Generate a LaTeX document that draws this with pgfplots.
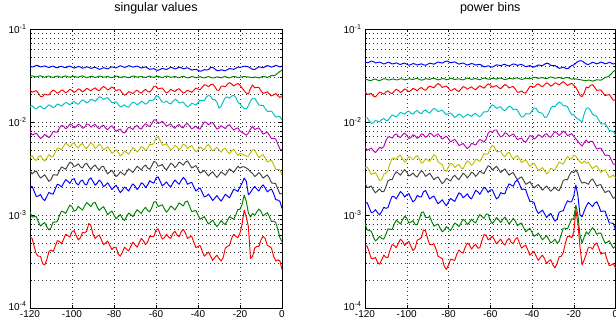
\documentclass[border=0pt]{standalone}
\usepackage{fontspec}
\setmainfont{Liberation Sans}
\setsansfont{Liberation Sans}
\usepackage{pgfplots}
\usepackage{pgfplotstable}
\pgfplotsset{compat=1.18}
\definecolor{mb}{rgb}{0,0,1}
\definecolor{mg}{rgb}{0,0.5,0}
\definecolor{mr}{rgb}{1,0,0}
\definecolor{mc}{rgb}{0,0.75,0.75}
\definecolor{mm}{rgb}{0.75,0,0.75}
\definecolor{my}{rgb}{0.75,0.75,0}
\definecolor{mk}{rgb}{0.25,0.25,0.25}

% left panel: singular values
\pgfplotstableread{
x a b c d e f g h i j
-120 400e-4 310e-4 222e-4 146e-4 79e-4 42e-4 30e-4 20e-4 10.8e-4 5.8e-4
-119 390e-4 314e-4 209e-4 150e-4 72.7e-4 43.5e-4 27.7e-4 20.3e-4 9.5e-4 5.6e-4
-118 396e-4 308e-4 214e-4 142e-4 74e-4 40e-4 29e-4 18e-4 9.6e-4 4.6e-4
-117 407e-4 305e-4 217e-4 138e-4 76e-4 38.5e-4 29.7e-4 15.8e-4 9.6e-4 3.8e-4
-116 402e-4 311e-4 204e-4 145e-4 71e-4 42e-4 27e-4 16e-4 8.4e-4 3.6e-4
-115 391e-4 314e-4 188e-4 149e-4 66.5e-4 43.5e-4 25e-4 16.6e-4 7.6e-4 3.6e-4
-114 395e-4 307e-4 188e-4 141e-4 69e-4 40e-4 26e-4 15e-4 8.0e-4 3.0e-4
-113 401e-4 303e-4 200e-4 138e-4 73.5e-4 38e-4 27e-4 14.3e-4 8.3e-4 2.9e-4
-112 392e-4 309e-4 196e-4 146e-4 71e-4 41e-4 25e-4 15.8e-4 7.5e-4 3.3e-4
-111 385e-4 312e-4 195e-4 153e-4 68e-4 44.5e-4 23e-4 17.5e-4 6.9e-4 4.05e-4
-110 394e-4 305e-4 210e-4 149e-4 72e-4 43e-4 24e-4 17e-4 7.3e-4 4.2e-4
-109 399e-4 302e-4 220e-4 142e-4 79e-4 42.5e-4 27e-4 16.7e-4 8.4e-4 4.05e-4
-108 388e-4 308e-4 214e-4 147e-4 78e-4 47e-4 27e-4 19e-4 8.4e-4 4.6e-4
-107 382e-4 312e-4 204e-4 156e-4 78e-4 52.5e-4 26.8e-4 21.4e-4 8.5e-4 5.3e-4
-106 392e-4 306e-4 210e-4 153e-4 86e-4 52e-4 30e-4 21e-4 9.8e-4 5.2e-4
-105 398e-4 303e-4 221e-4 148e-4 92e-4 50.3e-4 32.9e-4 20e-4 11e-4 4.9e-4
-104 389e-4 309e-4 216e-4 155e-4 90e-4 55e-4 32e-4 22e-4 10.8e-4 5.5e-4
-103 383e-4 313e-4 206e-4 163e-4 84.5e-4 59.4e-4 31e-4 24e-4 10.4e-4 6.2e-4
-102 393e-4 307e-4 213e-4 158e-4 88e-4 57e-4 34e-4 23e-4 11.6e-4 6.0e-4
-101 399e-4 303e-4 225e-4 153e-4 95e-4 54e-4 37e-4 21.9e-4 12.8e-4 5.8e-4
-100 390e-4 308e-4 219e-4 161e-4 93e-4 58e-4 36e-4 24e-4 12.3e-4 6.6e-4
-99 380e-4 311e-4 208e-4 166e-4 86.5e-4 60e-4 33e-4 24.6e-4 11e-4 6.8e-4
-98 386e-4 305e-4 215e-4 158e-4 89e-4 55e-4 34e-4 22e-4 11.3e-4 6.0e-4
-97 396e-4 303e-4 227e-4 155e-4 95e-4 52.6e-4 35.5e-4 21e-4 12.4e-4 5.4e-4
-96 390e-4 310e-4 222e-4 165e-4 92e-4 57e-4 33e-4 23e-4 11.8e-4 5.7e-4
-95 379e-4 313e-4 211e-4 173e-4 85.5e-4 58.8e-4 32e-4 23.8e-4 11.3e-4 6.5e-4
-94 384e-4 306e-4 218e-4 168e-4 88e-4 54e-4 35e-4 21.5e-4 12.5e-4 6.4e-4
-93 393e-4 300e-4 230e-4 160e-4 95.5e-4 51.7e-4 36e-4 21.1e-4 13.6e-4 6.7e-4
-92 387e-4 304e-4 224e-4 166e-4 94e-4 56e-4 33e-4 24e-4 13.0e-4 8.1e-4
-91 377e-4 310e-4 216e-4 176e-4 88e-4 60e-4 31e-4 25.1e-4 12.3e-4 7.7e-4
-90 383e-4 307e-4 226e-4 172e-4 92e-4 57e-4 33e-4 23e-4 13.4e-4 6.2e-4
-89 388e-4 301e-4 233e-4 167e-4 94.5e-4 52e-4 34.5e-4 20.9e-4 13.7e-4 5.6e-4
-88 378e-4 305e-4 222e-4 176e-4 88e-4 54e-4 32e-4 22e-4 12.2e-4 5.9e-4
-87 368e-4 312e-4 217e-4 187e-4 84.5e-4 57.8e-4 30.5e-4 23.8e-4 11.2e-4 6.1e-4
-86 374e-4 309e-4 230e-4 184e-4 90e-4 55e-4 33e-4 22.5e-4 11.8e-4 5.4e-4
-85 384e-4 303e-4 241e-4 175e-4 92.5e-4 50.3e-4 33.4e-4 20.2e-4 12.3e-4 4.8e-4
-84 378e-4 306e-4 233e-4 180e-4 86e-4 52e-4 30e-4 21e-4 11.2e-4 5.0e-4
-83 373e-4 309e-4 221e-4 183e-4 82.6e-4 54e-4 27.7e-4 22.2e-4 10.1e-4 5.25e-4
-82 383e-4 303e-4 228e-4 172e-4 88e-4 50e-4 29e-4 20.5e-4 10.6e-4 4.7e-4
-81 392e-4 300e-4 238e-4 161e-4 91e-4 46e-4 30.2e-4 18.8e-4 11e-4 4.25e-4
-80 386e-4 306e-4 230e-4 163e-4 85e-4 48e-4 28e-4 20e-4 10.0e-4 4.5e-4
-79 381e-4 312e-4 217e-4 165e-4 79.3e-4 50.3e-4 25.9e-4 20.9e-4 9.1e-4 4.5e-4
-78 392e-4 308e-4 222e-4 155e-4 82e-4 47e-4 27e-4 19e-4 9.6e-4 3.8e-4
-77 402e-4 302e-4 221e-4 145e-4 84e-4 43.2e-4 29.2e-4 17.4e-4 10.1e-4 3.6e-4
-76 396e-4 305e-4 204e-4 148e-4 78e-4 45e-4 28e-4 18.5e-4 9.2e-4 4.0e-4
-75 386e-4 308e-4 194e-4 153e-4 76e-4 48.8e-4 26.8e-4 20e-4 8.7e-4 4.5e-4
-74 392e-4 302e-4 200e-4 146e-4 82e-4 47e-4 29e-4 19e-4 9.6e-4 4.3e-4
-73 403e-4 299e-4 212e-4 144e-4 88e-4 45e-4 31.3e-4 18.1e-4 10.5e-4 4.1e-4
-72 398e-4 306e-4 208e-4 155e-4 86e-4 49e-4 30e-4 20e-4 10.1e-4 4.6e-4
-71 388e-4 312e-4 202e-4 164e-4 83e-4 53e-4 28.7e-4 21.6e-4 9.6e-4 5.1e-4
-70 394e-4 309e-4 213e-4 160e-4 89e-4 51e-4 31e-4 20.5e-4 10.5e-4 4.8e-4
-69 400e-4 303e-4 220e-4 153e-4 92e-4 47.5e-4 33.4e-4 18.8e-4 11.4e-4 4.5e-4
-68 390e-4 306e-4 210e-4 158e-4 86e-4 50e-4 32e-4 20e-4 10.9e-4 5.0e-4
-67 380e-4 310e-4 204e-4 167e-4 84e-4 54.6e-4 30.5e-4 22.2e-4 10.4e-4 5.6e-4
-66 386e-4 304e-4 216e-4 163e-4 91e-4 53e-4 33e-4 21.5e-4 11.4e-4 5.3e-4
-65 391e-4 301e-4 224e-4 155e-4 96e-4 49.4e-4 34.5e-4 19.7e-4 12.1e-4 4.8e-4
-64 380e-4 307e-4 214e-4 161e-4 92e-4 52e-4 32e-4 21e-4 11.2e-4 5.1e-4
-63 368e-4 311e-4 209e-4 172e-4 89e-4 57.8e-4 31e-4 23.3e-4 10.8e-4 5.9e-4
-62 372e-4 305e-4 222e-4 170e-4 96e-4 57e-4 34e-4 22.5e-4 12.0e-4 5.9e-4
-61 375e-4 302e-4 242e-4 173e-4 105.5e-4 58.8e-4 37.6e-4 22e-4 13.8e-4 5.9e-4
-60 364e-4 308e-4 243e-4 190e-4 105e-4 68e-4 37e-4 25e-4 13.9e-4 6.9e-4
-59 359e-4 311e-4 227e-4 190e-4 96.4e-4 69.4e-4 33.4e-4 25.7e-4 12.3e-4 7.1e-4
-58 368e-4 304e-4 230e-4 176e-4 98e-4 63e-4 34e-4 23e-4 12.6e-4 6.2e-4
-57 377e-4 300e-4 232e-4 163e-4 102e-4 56.4e-4 35e-4 20.6e-4 12.9e-4 5.5e-4
-56 372e-4 306e-4 216e-4 163e-4 96e-4 57e-4 32e-4 21.5e-4 11.6e-4 5.7e-4
-55 367e-4 312e-4 205e-4 168e-4 90e-4 58.8e-4 30.5e-4 22.7e-4 10.7e-4 6.2e-4
-54 377e-4 308e-4 212e-4 160e-4 93e-4 54e-4 33e-4 21e-4 11.4e-4 5.8e-4
-53 387e-4 302e-4 224e-4 156e-4 95.5e-4 49.8e-4 36e-4 20e-4 12.5e-4 5.6e-4
-52 382e-4 305e-4 218e-4 166e-4 89e-4 52e-4 35e-4 22e-4 12.0e-4 6.3e-4
-51 372e-4 309e-4 212e-4 175e-4 85.5e-4 56.2e-4 32.4e-4 23.8e-4 11.3e-4 6.7e-4
-50 378e-4 303e-4 223e-4 171e-4 91e-4 54e-4 34e-4 22.5e-4 12.3e-4 6.1e-4
-49 389e-4 300e-4 228e-4 160e-4 94e-4 50.3e-4 37.1e-4 21.4e-4 13.5e-4 5.85e-4
-48 384e-4 306e-4 216e-4 163e-4 88e-4 53e-4 36e-4 23.5e-4 13.0e-4 6.6e-4
-47 373e-4 310e-4 204e-4 164e-4 86.5e-4 57.8e-4 34.3e-4 25.4e-4 12.5e-4 7.0e-4
-46 378e-4 304e-4 210e-4 152e-4 94e-4 56e-4 37e-4 24e-4 13.9e-4 6.4e-4
-45 383e-4 298e-4 220e-4 145e-4 96.6e-4 51.7e-4 38.2e-4 21.4e-4 14.1e-4 5.6e-4
-44 372e-4 302e-4 214e-4 150e-4 90e-4 54e-4 35e-4 22e-4 12.4e-4 5.8e-4
-43 362e-4 308e-4 208e-4 159e-4 84e-4 55.7e-4 32e-4 22.5e-4 10.9e-4 5.9e-4
-42 366e-4 305e-4 220e-4 156e-4 87e-4 51e-4 33e-4 20e-4 11.0e-4 5.1e-4
-41 370e-4 299e-4 232e-4 152e-4 90.3e-4 47.5e-4 34e-4 18.1e-4 11.2e-4 4.45e-4
-40 360e-4 303e-4 226e-4 161e-4 85e-4 50e-4 31e-4 19e-4 10.0e-4 4.6e-4
-39 351e-4 307e-4 222e-4 172e-4 84e-4 54e-4 28.2e-4 19.5e-4 9.0e-4 4.7e-4
-38 356e-4 301e-4 236e-4 170e-4 92e-4 52e-4 29e-4 17.5e-4 9.3e-4 4.1e-4
-37 366e-4 298e-4 252e-4 170e-4 100e-4 50.3e-4 30.2e-4 15.6e-4 9.6e-4 3.6e-4
-36 362e-4 304e-4 248e-4 185e-4 99e-4 55e-4 28e-4 16e-4 8.7e-4 3.8e-4
-35 366e-4 308e-4 240e-4 194e-4 93e-4 57.2e-4 26.3e-4 16.8e-4 8.0e-4 4.0e-4
-34 385e-4 302e-4 252e-4 188e-4 97e-4 53e-4 28e-4 15.5e-4 8.4e-4 3.6e-4
-33 386e-4 297e-4 256e-4 174e-4 98.7e-4 48.9e-4 29.1e-4 14.3e-4 8.8e-4 3.25e-4
-32 372e-4 300e-4 240e-4 174e-4 91e-4 51e-4 27e-4 15.2e-4 8.1e-4 3.5e-4
-31 357e-4 306e-4 220e-4 164e-4 84e-4 53.5e-4 25.4e-4 16.2e-4 7.5e-4 3.7e-4
-30 356e-4 303e-4 219e-4 141e-4 86e-4 50e-4 27e-4 15e-4 8.0e-4 3.4e-4
-29 365e-4 299e-4 241e-4 147e-4 91.3e-4 47.5e-4 29.1e-4 14.1e-4 8.7e-4 3.2e-4
-28 360e-4 305e-4 244e-4 166e-4 88e-4 51e-4 28e-4 15.3e-4 8.2e-4 3.5e-4
-27 356e-4 308e-4 239e-4 183e-4 85e-4 52.5e-4 26.8e-4 16.7e-4 7.9e-4 4.4e-4
-26 366e-4 302e-4 254e-4 186e-4 91e-4 48e-4 29e-4 16e-4 8.7e-4 4.6e-4
-25 376e-4 298e-4 265e-4 180e-4 93.5e-4 45.6e-4 31.3e-4 15.3e-4 9.6e-4 4.7e-4
-24 372e-4 304e-4 256e-4 190e-4 87e-4 49e-4 30e-4 17e-4 9.3e-4 5.6e-4
-23 368e-4 310e-4 244e-4 194e-4 81.7e-4 50.9e-4 28.7e-4 18.9e-4 9.0e-4 6.2e-4
-22 378e-4 306e-4 252e-4 184e-4 85e-4 47e-4 31e-4 18.5e-4 10.0e-4 5.9e-4
-21 390e-4 300e-4 260e-4 163e-4 86.6e-4 43.7e-4 33.4e-4 17.9e-4 11.5e-4 5.7e-4
-20 386e-4 303e-4 248e-4 156e-4 80e-4 46e-4 32e-4 20e-4 11.5e-4 6.4e-4
-19 392e-4 306e-4 232e-4 146e-4 77e-4 45e-4 33e-4 22e-4 13e-4 8.0e-4
-18 398e-4 308e-4 216e-4 140e-4 75e-4 44e-4 33e-4 25e-4 16.4e-4 11.3e-4
-17 396e-4 306e-4 205e-4 138e-4 72e-4 43e-4 32e-4 23e-4 14e-4 9.5e-4
-16 392e-4 305e-4 200e-4 150e-4 76e-4 43e-4 31e-4 16.5e-4 10.5e-4 7.5e-4
-15 380e-4 302e-4 230e-4 168e-4 84e-4 47e-4 29e-4 17.5e-4 9.5e-4 3.4e-4
-14 368e-4 300e-4 250e-4 180e-4 90e-4 50e-4 28e-4 19e-4 10.4e-4 3.6e-4
-13 367e-4 305e-4 233e-4 180e-4 83e-4 50.3e-4 25.9e-4 20.3e-4 9.9e-4 4.4e-4
-12 380e-4 302e-4 236e-4 166e-4 85e-4 45e-4 27e-4 19e-4 10.8e-4 4.6e-4
-11 392e-4 298e-4 235e-4 152e-4 86.6e-4 41.4e-4 28.6e-4 18.1e-4 11.6e-4 4.6e-4
-10 388e-4 304e-4 216e-4 151e-4 80e-4 43e-4 27e-4 20e-4 10.9e-4 5.4e-4
-9 383e-4 310e-4 203e-4 151e-4 74e-4 44.5e-4 24.9e-4 21.1e-4 9.8e-4 5.9e-4
-8 394e-4 306e-4 206e-4 140e-4 76e-4 41e-4 26e-4 19.5e-4 10.2e-4 5.6e-4
-7 404e-4 302e-4 211e-4 130e-4 77.7e-4 37.1e-4 27e-4 17.7e-4 10.6e-4 4.7e-4
-6 398e-4 308e-4 200e-4 130e-4 72e-4 38e-4 25e-4 18.5e-4 9.6e-4 4.6e-4
-5 389e-4 316e-4 190e-4 131e-4 66e-4 38.7e-4 22.1e-4 19e-4 8.5e-4 4.4e-4
-4 396e-4 315e-4 196e-4 122e-4 67e-4 35e-4 22e-4 17e-4 8.6e-4 3.6e-4
-3 406e-4 320e-4 202e-4 113e-4 65.6e-4 31e-4 21.7e-4 14.6e-4 8.3e-4 3.2e-4
-2 400e-4 335e-4 192e-4 114e-4 58e-4 31e-4 19e-4 14.5e-4 7.0e-4 3.3e-4
-1 391e-4 350e-4 183e-4 114e-4 51.3e-4 30.7e-4 16.9e-4 14e-4 5.7e-4 3.2e-4
0 398e-4 360e-4 190e-4 105e-4 50e-4 27e-4 17e-4 11.8e-4 5.2e-4 2.6e-4
}\Lt

% right panel: power bins
\pgfplotstableread{
x a b c d e f g h i j
-120 445e-4 284e-4 212e-4 110e-4 54e-4 32e-4 22e-4 13.4e-4 8.1e-4 4.6e-4
-119 434e-4 286e-4 198e-4 111e-4 50e-4 32.9e-4 19.7e-4 13.6e-4 6.9e-4 4.65e-4
-118 440e-4 280e-4 200e-4 103e-4 51e-4 30e-4 20e-4 12e-4 6.8e-4 4.0e-4
-117 452e-4 279e-4 203e-4 96.5e-4 52.5e-4 27.3e-4 20.5e-4 10.6e-4 6.7e-4 3.4e-4
-116 446e-4 287e-4 190e-4 98e-4 49e-4 28e-4 18.6e-4 10.8e-4 5.8e-4 3.4e-4
-115 432e-4 289e-4 186e-4 104e-4 47e-4 28.6e-4 17.3e-4 11.4e-4 5.25e-4 3.5e-4
-114 436e-4 282e-4 198e-4 102e-4 50e-4 26e-4 18.2e-4 10.6e-4 5.5e-4 3.1e-4
-113 442e-4 279e-4 210e-4 100e-4 53.5e-4 23.5e-4 19.1e-4 10e-4 5.9e-4 2.95e-4
-112 430e-4 285e-4 205e-4 106e-4 52e-4 24e-4 17.8e-4 10.9e-4 5.6e-4 3.3e-4
-111 420e-4 292e-4 199e-4 109e-4 54.6e-4 27.6e-4 17.8e-4 12.1e-4 5.5e-4 3.7e-4
-110 428e-4 290e-4 210e-4 104e-4 63e-4 28e-4 20e-4 11.8e-4 6.2e-4 3.5e-4
-109 439e-4 283e-4 216e-4 104e-4 69.3e-4 30e-4 23.3e-4 12e-4 7.1e-4 3.5e-4
-108 432e-4 284e-4 206e-4 112e-4 69e-4 36e-4 24e-4 14e-4 7.0e-4 4.2e-4
-107 420e-4 290e-4 202e-4 119e-4 67e-4 40.8e-4 24e-4 15.9e-4 7.0e-4 4.8e-4
-106 426e-4 288e-4 214e-4 116e-4 72e-4 41e-4 27e-4 15.7e-4 8.0e-4 4.7e-4
-105 432e-4 283e-4 225e-4 113e-4 74.5e-4 39.5e-4 29.2e-4 14.9e-4 8.8e-4 4.45e-4
-104 422e-4 286e-4 218e-4 120e-4 70e-4 43e-4 28e-4 16.4e-4 8.4e-4 5.0e-4
-103 415e-4 292e-4 208e-4 127e-4 68e-4 44e-4 26.8e-4 17.9e-4 8.0e-4 5.5e-4
-102 425e-4 290e-4 215e-4 124e-4 73e-4 40e-4 29e-4 17e-4 8.9e-4 5.2e-4
-101 430e-4 284e-4 227e-4 121e-4 76e-4 37.1e-4 30.7e-4 15.6e-4 9.7e-4 4.7e-4
-100 418e-4 286e-4 221e-4 128e-4 72e-4 39e-4 29e-4 16.5e-4 9.2e-4 5.0e-4
-99 408e-4 292e-4 211e-4 131e-4 66.5e-4 42.4e-4 26.3e-4 17e-4 8.2e-4 5.2e-4
-98 414e-4 289e-4 218e-4 124e-4 68e-4 41e-4 27e-4 15.2e-4 8.4e-4 4.6e-4
-97 425e-4 286e-4 230e-4 121e-4 73e-4 39e-4 28.3e-4 13.8e-4 8.7e-4 4.15e-4
-96 420e-4 292e-4 224e-4 129e-4 71e-4 42e-4 26.5e-4 14.5e-4 7.9e-4 4.4e-4
-95 410e-4 294e-4 217e-4 133e-4 66.5e-4 43.5e-4 25.6e-4 16.2e-4 7.9e-4 5.35e-4
-94 416e-4 288e-4 228e-4 126e-4 69e-4 40e-4 28e-4 15.8e-4 9.0e-4 5.5e-4
-93 422e-4 282e-4 235e-4 123e-4 74.5e-4 36.2e-4 29.9e-4 15.6e-4 10.6e-4 5.7e-4
-92 412e-4 285e-4 224e-4 131e-4 73e-4 37e-4 28.5e-4 17.8e-4 10.8e-4 6.9e-4
-91 407e-4 292e-4 219e-4 135e-4 68.4e-4 40.3e-4 26e-4 18.3e-4 9.4e-4 6.75e-4
-90 418e-4 290e-4 232e-4 128e-4 71e-4 39e-4 27e-4 16.5e-4 9.4e-4 5.6e-4
-89 429e-4 287e-4 244e-4 125e-4 76e-4 37.6e-4 28.1e-4 14.9e-4 9.6e-4 4.8e-4
-88 424e-4 293e-4 238e-4 133e-4 74e-4 41e-4 26e-4 15.5e-4 8.5e-4 4.8e-4
-87 418e-4 295e-4 233e-4 140e-4 69.4e-4 44.5e-4 24e-4 16e-4 7.6e-4 4.9e-4
-86 430e-4 289e-4 248e-4 137e-4 72e-4 43e-4 25e-4 14.5e-4 7.8e-4 4.3e-4
-85 442e-4 284e-4 259e-4 129e-4 74.5e-4 37.1e-4 25.7e-4 13.2e-4 8.0e-4 3.6e-4
-84 436e-4 287e-4 250e-4 132e-4 70e-4 36e-4 23.5e-4 13.8e-4 7.2e-4 3.5e-4
-83 430e-4 293e-4 235e-4 134e-4 65.5e-4 35e-4 21.7e-4 14.6e-4 6.6e-4 3.4e-4
-82 442e-4 291e-4 240e-4 126e-4 68e-4 30e-4 22.8e-4 13.4e-4 6.9e-4 2.8e-4
-81 453e-4 285e-4 244e-4 119.5e-4 70.3e-4 29.6e-4 24.8e-4 12.6e-4 7.5e-4 2.6e-4
-80 446e-4 288e-4 230e-4 123e-4 66e-4 33e-4 24e-4 13.8e-4 7.1e-4 2.9e-4
-79 433e-4 294e-4 217e-4 125e-4 61.3e-4 36e-4 23.2e-4 15.1e-4 6.8e-4 3.35e-4
-78 438e-4 292e-4 222e-4 118e-4 63e-4 35e-4 25.5e-4 14.5e-4 7.5e-4 3.3e-4
-77 443e-4 286e-4 229e-4 112e-4 65e-4 32.4e-4 26.7e-4 14e-4 8.2e-4 3.25e-4
-76 430e-4 289e-4 218e-4 116e-4 61e-4 34e-4 25e-4 15.6e-4 7.9e-4 3.8e-4
-75 419e-4 292e-4 213e-4 122e-4 56e-4 35e-4 24e-4 17.3e-4 7.5e-4 4.2e-4
-74 426e-4 286e-4 226e-4 119e-4 57e-4 32e-4 26e-4 16.8e-4 8.2e-4 4.0e-4
-73 431e-4 284e-4 240e-4 112e-4 58.8e-4 31.5e-4 28.1e-4 15.3e-4 9.0e-4 3.9e-4
-72 420e-4 290e-4 236e-4 115e-4 55e-4 35e-4 27e-4 16e-4 8.6e-4 4.5e-4
-71 410e-4 296e-4 225e-4 121e-4 51.8e-4 38.2e-4 25.1e-4 16.9e-4 7.9e-4 5.0e-4
-70 416e-4 293e-4 232e-4 118e-4 54e-4 37e-4 26.5e-4 15.5e-4 8.3e-4 4.8e-4
-69 426e-4 287e-4 239e-4 115e-4 58.8e-4 34.3e-4 28.9e-4 14.9e-4 9.0e-4 4.3e-4
-68 420e-4 290e-4 228e-4 121e-4 58e-4 36e-4 28e-4 16.5e-4 8.5e-4 4.6e-4
-67 409e-4 293e-4 222e-4 124e-4 56.5e-4 39.8e-4 26e-4 18.4e-4 8.2e-4 4.85e-4
-66 414e-4 288e-4 234e-4 117e-4 61e-4 39e-4 27.5e-4 17.8e-4 9.2e-4 4.4e-4
-65 418e-4 285e-4 245e-4 114e-4 65e-4 37.6e-4 29.7e-4 16.7e-4 10.1e-4 4.45e-4
-64 405e-4 291e-4 238e-4 120e-4 63e-4 41e-4 28.5e-4 18.2e-4 9.6e-4 5.3e-4
-63 392e-4 297e-4 231e-4 129e-4 60.8e-4 45.6e-4 27.9e-4 19.9e-4 9.2e-4 6.15e-4
-62 396e-4 294e-4 244e-4 128e-4 65e-4 45e-4 31e-4 19e-4 10.2e-4 6.1e-4
-61 403e-4 288e-4 257e-4 131e-4 76e-4 45.6e-4 33.9e-4 17.5e-4 10.2e-4 5.4e-4
-60 394e-4 290e-4 250e-4 146e-4 80e-4 52e-4 33e-4 18.6e-4 8.8e-4 5.6e-4
-59 389e-4 295e-4 236e-4 153e-4 77e-4 56.2e-4 30.5e-4 18.7e-4 8.1e-4 5.9e-4
-58 400e-4 292e-4 242e-4 148e-4 82e-4 54e-4 32e-4 16.5e-4 8.6e-4 5.4e-4
-57 412e-4 289e-4 247e-4 140e-4 82e-4 48e-4 33.4e-4 14.9e-4 9.4e-4 4.9e-4
-56 408e-4 295e-4 234e-4 144e-4 74e-4 48e-4 31e-4 15.5e-4 8.9e-4 5.2e-4
-55 402e-4 297e-4 228e-4 146e-4 69e-4 48.8e-4 28.7e-4 17.4e-4 8.3e-4 5.5e-4
-54 412e-4 291e-4 240e-4 136e-4 71e-4 44e-4 30e-4 17e-4 9.0e-4 5.0e-4
-53 417e-4 286e-4 253e-4 132e-4 76.6e-4 42.3e-4 31.3e-4 16.9e-4 9.5e-4 4.75e-4
-52 406e-4 289e-4 246e-4 140e-4 75e-4 46e-4 29e-4 19.5e-4 8.8e-4 5.3e-4
-51 400e-4 295e-4 232e-4 148e-4 70e-4 47.2e-4 26.8e-4 21.6e-4 8.0e-4 5.6e-4
-50 410e-4 293e-4 238e-4 145e-4 72e-4 43e-4 28e-4 21e-4 8.5e-4 5.1e-4
-49 421e-4 290e-4 241e-4 136e-4 74.5e-4 40e-4 28.6e-4 20.4e-4 9.2e-4 4.9e-4
-48 416e-4 296e-4 226e-4 138e-4 70e-4 42e-4 26e-4 22.8e-4 8.6e-4 5.5e-4
-47 406e-4 298e-4 209e-4 135e-4 64.6e-4 43.5e-4 24e-4 23.7e-4 7.7e-4 5.7e-4
-46 412e-4 292e-4 210e-4 122e-4 66e-4 40e-4 25e-4 21.5e-4 8.0e-4 5.0e-4
-45 416e-4 287e-4 216e-4 113e-4 67e-4 36.7e-4 25.7e-4 18.8e-4 8.2e-4 4.4e-4
-44 404e-4 290e-4 206e-4 114e-4 62e-4 38e-4 23.5e-4 19e-4 7.3e-4 4.6e-4
-43 393e-4 296e-4 205e-4 123e-4 60.8e-4 39.2e-4 21.4e-4 18.7e-4 6.6e-4 4.75e-4
-42 398e-4 294e-4 222e-4 122e-4 66e-4 36e-4 22e-4 16e-4 6.9e-4 4.2e-4
-41 404e-4 291e-4 241e-4 122e-4 71.4e-4 33.4e-4 22.8e-4 14e-4 7.2e-4 3.7e-4
-40 394e-4 297e-4 242e-4 132e-4 70e-4 35e-4 21e-4 14e-4 6.5e-4 3.9e-4
-39 389e-4 303e-4 236e-4 141e-4 65.5e-4 36e-4 19.5e-4 13.6e-4 5.9e-4 4.05e-4
-38 400e-4 300e-4 250e-4 140e-4 68e-4 33e-4 20.5e-4 11.5e-4 6.1e-4 3.6e-4
-37 411e-4 294e-4 258e-4 128e-4 73e-4 30.1e-4 21.3e-4 10.4e-4 6.4e-4 3.25e-4
-36 406e-4 298e-4 246e-4 126e-4 71e-4 31e-4 19.8e-4 10.8e-4 5.9e-4 3.5e-4
-35 404e-4 301e-4 239e-4 124e-4 68.4e-4 32.3e-4 18.5e-4 11.3e-4 5.4e-4 3.7e-4
-34 418e-4 295e-4 252e-4 112e-4 73e-4 30e-4 19.5e-4 10.3e-4 5.7e-4 3.4e-4
-33 429e-4 292e-4 264e-4 113e-4 75e-4 27.7e-4 20.5e-4 9.4e-4 6.0e-4 3.0e-4
-32 424e-4 299e-4 256e-4 124e-4 70e-4 29e-4 19.2e-4 10e-4 5.5e-4 3.2e-4
-31 406e-4 305e-4 243e-4 141e-4 68.4e-4 31.8e-4 18e-4 10.4e-4 5.0e-4 3.3e-4
-30 404e-4 302e-4 250e-4 148e-4 74e-4 31e-4 19e-4 9.4e-4 5.2e-4 2.9e-4
-29 405e-4 295e-4 264e-4 146e-4 78.8e-4 30.5e-4 19.9e-4 8.6e-4 5.5e-4 2.7e-4
-28 390e-4 298e-4 258e-4 156e-4 76e-4 34e-4 18.6e-4 9e-4 5.0e-4 3.0e-4
-27 378e-4 301e-4 250e-4 164e-4 71.7e-4 37.1e-4 18.3e-4 10.7e-4 5.2e-4 3.55e-4
-26 382e-4 296e-4 262e-4 160e-4 75e-4 36e-4 20.5e-4 11e-4 6.2e-4 3.6e-4
-25 388e-4 293e-4 271e-4 149e-4 79.8e-4 35.3e-4 23.6e-4 11.1e-4 7.2e-4 3.95e-4
-24 378e-4 299e-4 260e-4 150e-4 77e-4 39e-4 24e-4 12.8e-4 7.2e-4 5.0e-4
-23 374e-4 301e-4 247e-4 146e-4 71.3e-4 42.4e-4 24e-4 14.2e-4 7.1e-4 5.9e-4
-22 386e-4 295e-4 255e-4 130e-4 73e-4 41e-4 27e-4 13.8e-4 8.0e-4 5.9e-4
-21 406e-4 289e-4 261e-4 120e-4 75e-4 40e-4 29.4e-4 13.9e-4 9.1e-4 5.7e-4
-20 410e-4 292e-4 248e-4 120e-4 70e-4 44e-4 28.5e-4 16e-4 9.0e-4 6.5e-4
-19 430e-4 290e-4 235e-4 112e-4 66e-4 43e-4 30.5e-4 21e-4 12.8e-4 11.3e-4
-18 448e-4 288e-4 215e-4 108e-4 62e-4 40e-4 28e-4 16e-4 10e-4 8e-4
-17 456e-4 286e-4 192e-4 104e-4 58e-4 37e-4 24e-4 10e-4 6e-4 4.5e-4
-16 452e-4 282e-4 188e-4 100e-4 55e-4 36e-4 22e-4 9.6e-4 5.0e-4 2.9e-4
-15 436e-4 280e-4 205e-4 122e-4 60e-4 38e-4 22.5e-4 11e-4 5.8e-4 3.3e-4
-14 420e-4 278e-4 238e-4 140e-4 64e-4 36e-4 22e-4 12.5e-4 6.6e-4 3.8e-4
-13 415e-4 283e-4 233e-4 142e-4 60e-4 37.1e-4 21.4e-4 13.6e-4 6.2e-4 4.5e-4
-12 426e-4 280e-4 248e-4 134e-4 62e-4 34e-4 23.5e-4 13e-4 6.8e-4 4.5e-4
-11 438e-4 275e-4 252e-4 121e-4 62e-4 31.5e-4 24.4e-4 12.3e-4 7.3e-4 4.3e-4
-10 432e-4 279e-4 236e-4 118e-4 56e-4 33e-4 22.5e-4 13.4e-4 6.9e-4 4.8e-4
-9 422e-4 285e-4 219e-4 115e-4 51.3e-4 33.9e-4 20.4e-4 13.9e-4 6.2e-4 5.0e-4
-8 430e-4 283e-4 220e-4 104e-4 52e-4 31e-4 21e-4 12.5e-4 6.4e-4 4.4e-4
-7 441e-4 282e-4 221e-4 95.5e-4 52.5e-4 28.7e-4 21.2e-4 10.9e-4 6.4e-4 3.8e-4
-6 434e-4 290e-4 206e-4 95e-4 48e-4 30e-4 19e-4 11e-4 5.6e-4 3.9e-4
-5 422e-4 302e-4 192e-4 96e-4 43.7e-4 30.7e-4 17.4e-4 11e-4 5.0e-4 3.9e-4
-4 428e-4 305e-4 195e-4 89e-4 44e-4 28e-4 18e-4 9.5e-4 5.1e-4 3.3e-4
-3 438e-4 313e-4 197e-4 81e-4 43.6e-4 25.4e-4 18.2e-4 8.2e-4 5.3e-4 2.85e-4
-2 430e-4 330e-4 184e-4 80e-4 39e-4 26e-4 16.5e-4 8.2e-4 4.8e-4 2.9e-4
-1 420e-4 350e-4 171e-4 79e-4 35.2e-4 27e-4 15.1e-4 8.1e-4 4.4e-4 3.0e-4
0 428e-4 362e-4 173e-4 72e-4 35e-4 25e-4 15.7e-4 6.9e-4 4.6e-4 2.7e-4
}\Rt

\pgfplotsset{
  matpanel/.style={
    scale only axis, height=279pt,
    xmin=-120, xmax=0, ymin=1e-4, ymax=1e-1,
    xtick={-120,-100,-80,-60,-40,-20,0},
    xticklabels={-120,-100,-80,-60,-40,-20,0},
    ytick={1e-4,1e-3,1e-2,1e-1},
    yticklabels={\raisebox{4pt}{10\textsuperscript{-4}},10\textsuperscript{-3},10\textsuperscript{-2},10\textsuperscript{-1}},
    grid=both,
    major grid style={black!80, line width=0.5pt, dash pattern=on 0.8pt off 3.2pt},
    minor grid style={black!80, line width=0.5pt, dash pattern=on 0.8pt off 3.2pt},
    tick align=inside,
    major tick length=3.5pt, minor tick length=2pt,
    tick style={black, line width=0.5pt},
    axis line style={black, line width=0.6pt},
    ticklabel style={font=\fontsize{10}{11}\selectfont},
    xticklabel style={yshift=1pt},
    title style={font=\fontsize{12.5}{14}\selectfont, anchor=base, yshift=11pt},
    every axis plot/.append style={line width=0.95pt, mark=none, line join=round},
  }
}

\begin{document}
\begin{tikzpicture}
\path[use as bounding box] (0,0) rectangle (616pt,320pt);
\begin{axis}[ymode=log, width=252pt, matpanel, at={(30pt,12pt)}, anchor=south west, title={singular values}]
\addplot[mb] table[x=x,y=a]{\Lt};
\addplot[mg] table[x=x,y=b]{\Lt};
\addplot[mr] table[x=x,y=c]{\Lt};
\addplot[mc] table[x=x,y=d]{\Lt};
\addplot[mm] table[x=x,y=e]{\Lt};
\addplot[my] table[x=x,y=f]{\Lt};
\addplot[mk] table[x=x,y=g]{\Lt};
\addplot[mb] table[x=x,y=h]{\Lt};
\addplot[mg] table[x=x,y=i]{\Lt};
\addplot[mr] table[x=x,y=j]{\Lt};
\end{axis}
\begin{axis}[ymode=log, width=250.5pt, matpanel, at={(365pt,12pt)}, anchor=south west, title={power bins}]
\addplot[mb] table[x=x,y=a]{\Rt};
\addplot[mg] table[x=x,y=b]{\Rt};
\addplot[mr] table[x=x,y=c]{\Rt};
\addplot[mc] table[x=x,y=d]{\Rt};
\addplot[mm] table[x=x,y=e]{\Rt};
\addplot[my] table[x=x,y=f]{\Rt};
\addplot[mk] table[x=x,y=g]{\Rt};
\addplot[mb] table[x=x,y=h]{\Rt};
\addplot[mg] table[x=x,y=i]{\Rt};
\addplot[mr] table[x=x,y=j]{\Rt};
\end{axis}
\end{tikzpicture}
\end{document}
